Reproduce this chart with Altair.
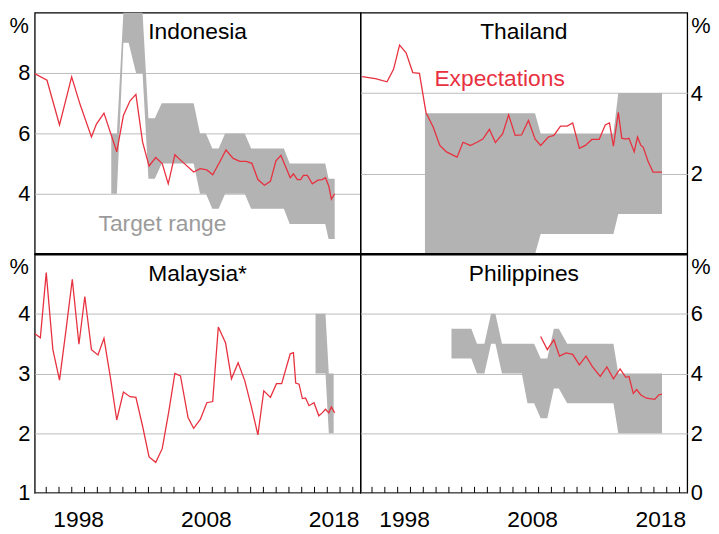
import altair as alt
import pandas as pd

FONT = "Liberation Sans"
RED = "#e8313f"
GREY = "#b3b3b3"
GRID = "#bdbdbd"

X_DOMAIN = [1995.1, 2020.6]
YEAR_TICKS = list(range(1996, 2021))
YEAR_LABELS = [1998.5, 2008.5, 2018.5]

# ---------------- Indonesia ----------------
idn_exp_year = [1995.1, 1996.06, 1997.04, 1997.99, 1998.64, 1999.54, 1999.93, 2000.52, 2001.52, 2002.04,
                2002.56, 2003.02, 2003.54, 2004.05, 2004.57, 2005.08, 2005.55, 2006.07, 2006.58, 2007.54,
                2008.05, 2008.57, 2009.03, 2009.6, 2010.07, 2010.63, 2011.15, 2011.66, 2012.1, 2012.57,
                2013.08, 2013.55, 2013.98, 2014.37, 2015.1, 2015.35, 2015.66, 2015.92, 2016.13, 2016.44,
                2016.83, 2017.27, 2017.6, 2017.86, 2018.12, 2018.32, 2018.58]
idn_exp_val = [7.98, 7.76, 6.28, 7.87, 6.97, 5.88, 6.31, 6.67, 5.39, 6.59,
               7.08, 7.29, 5.72, 4.92, 5.20, 5.00, 4.33, 5.29, 5.09, 4.72,
               4.83, 4.79, 4.63, 5.07, 5.45, 5.17, 5.07, 5.07, 5.01, 4.47,
               4.28, 4.41, 5.09, 5.27, 4.53, 4.66, 4.47, 4.47, 4.61, 4.61,
               4.33, 4.45, 4.47, 4.53, 4.25, 3.82, 4.00]
idn_band_year = [2001.09, 2001.53, 2002.04, 2002.45, 2003.03, 2003.54, 2004.0, 2004.5, 2005.04, 2007.54,
                 2008.04, 2008.5, 2009.0, 2009.5, 2010.0, 2011.54, 2012.04, 2014.6, 2015.06, 2017.84,
                 2018.1, 2018.58]
idn_band_lo = [4, 4, 9, 9, 8, 8, 4.5, 4.5, 5, 5,
               4, 4, 3.5, 3.5, 4, 4, 3.5, 3.5, 3, 3,
               2.5, 2.5]
idn_band_hi = [6, 6, 10, 10, 10, 10, 6.5, 6.5, 7, 7,
               6, 6, 5.5, 5.5, 6, 6, 5.5, 5.5, 5, 5,
               4.5, 4.5]

# ---------------- Thailand ----------------
tha_exp_year = [1995.23, 1996.26, 1997.17, 1997.68, 1998.15, 1998.66, 1999.18, 1999.7, 2000.21, 2000.78,
                2001.29, 2001.81, 2002.64, 2003.1, 2003.67, 2004.19, 2004.65, 2005.16, 2005.63, 2006.2,
                2006.66, 2007.17, 2007.67, 2008.21, 2008.72, 2009.16, 2009.76, 2010.19, 2010.71, 2011.23,
                2011.66, 2012.18, 2012.65, 2013.16, 2013.73, 2014.2, 2014.53, 2014.84, 2015.22, 2015.49,
                2015.8, 2016.05, 2016.46, 2016.72, 2016.98, 2017.16, 2017.54, 2017.93, 2018.63]
tha_exp_val = [4.41, 4.36, 4.28, 4.59, 5.19, 5.00, 4.51, 4.49, 3.52, 3.15,
               2.70, 2.54, 2.41, 2.78, 2.70, 2.78, 2.86, 3.10, 2.77, 2.99,
               3.46, 2.95, 2.96, 3.32, 2.86, 2.70, 2.91, 2.95, 3.18, 3.18,
               3.26, 2.63, 2.70, 2.85, 2.85, 3.21, 3.26, 2.68, 3.52, 2.88,
               2.86, 2.88, 2.54, 2.91, 2.70, 2.66, 2.31, 2.04, 2.04]
tha_band_year = [2000.13, 2008.72, 2009.16, 2014.84, 2015.22, 2018.63]
tha_band_lo = [0, 0, 0.5, 0.5, 1, 1]
tha_band_hi = [3.5, 3.5, 3.0, 3.0, 4, 4]

# ---------------- Malaysia ----------------
mys_exp_year = [1995.1, 1995.54, 1996.0, 1996.52, 1997.04, 1997.55, 1998.04, 1998.56, 1999.02, 1999.54,
                2000.05, 2000.52, 2001.04, 2001.52, 2002.04, 2002.56, 2003.02, 2003.54, 2004.05, 2004.57,
                2005.08, 2005.6, 2006.07, 2006.51, 2007.1, 2007.54, 2008.06, 2008.57, 2009.03, 2009.47,
                2010.04, 2010.5, 2011.02, 2011.54, 2012.05, 2012.57, 2013.03, 2013.55, 2014.02, 2014.43,
                2015.1, 2015.35, 2015.53, 2015.79, 2016.05, 2016.3, 2016.57, 2016.96, 2017.34, 2017.6,
                2017.86, 2018.12, 2018.32, 2018.58]
mys_exp_val = [3.67, 3.60, 4.69, 3.40, 2.89, 3.73, 4.58, 3.49, 4.29, 3.40,
               3.31, 3.59, 2.91, 2.22, 2.69, 2.61, 2.60, 2.12, 1.60, 1.51,
               1.74, 2.37, 3.00, 2.96, 2.26, 2.08, 2.23, 2.51, 2.53, 3.78,
               3.51, 2.91, 3.18, 2.88, 2.45, 1.97, 2.71, 2.60, 2.83, 2.83,
               3.33, 3.35, 2.84, 2.82, 2.58, 2.59, 2.46, 2.51, 2.29, 2.34,
               2.40, 2.34, 2.44, 2.34]
mys_band_year = [2017.08, 2017.86, 2018.12, 2018.5]
mys_band_lo = [3, 3, 2, 2]
mys_band_hi = [4, 4, 3, 3]

# ---------------- Philippines ----------------
phl_exp_year = [2009.16, 2009.68, 2010.19, 2010.63, 2011.15, 2011.66, 2012.18, 2012.7, 2013.21, 2013.81,
                2014.33, 2014.84, 2015.36, 2015.8, 2016.05, 2016.39, 2016.65, 2016.98, 2017.42, 2018.06,
                2018.37, 2018.63]
phl_exp_val = [5.24, 4.80, 5.13, 4.58, 4.69, 4.64, 4.29, 4.58, 4.22, 3.90,
               4.22, 3.82, 4.15, 3.87, 3.90, 3.33, 3.46, 3.28, 3.17, 3.13,
               3.28, 3.31]
phl_band_year = [2002.2, 2003.75, 2004.19, 2004.77, 2005.29, 2005.63, 2006.14, 2007.69, 2008.13, 2008.65,
                 2009.16, 2009.68, 2010.19, 2010.58, 2011.23, 2014.84, 2015.22, 2018.63]
phl_band_lo = [4.5, 4.5, 4, 4, 5, 5, 4, 4, 3, 3,
               2.5, 2.5, 3.5, 3.5, 3, 3, 2, 2]
phl_band_hi = [5.5, 5.5, 5, 5, 6, 6, 5, 5, 5, 5,
               4.5, 4.5, 5.5, 5.5, 5, 5, 4, 4]


def panel(name, exp_year, exp_val, band_year, band_lo, band_hi, ydomain, yvalues,
          orient, width, height, bottom, annot=None):
    exp_df = pd.DataFrame({"year": exp_year, "v": exp_val})
    band_df = pd.DataFrame({"year": band_year, "lo": band_lo, "hi": band_hi})
    xscale = alt.Scale(domain=X_DOMAIN, nice=False, zero=False)
    yscale = alt.Scale(domain=ydomain, nice=False, zero=False)
    if bottom:
        xaxis = alt.Axis(values=YEAR_LABELS, labelExpr="'' + floor(datum.value)", ticks=False,
                         domain=False, grid=False, labelFontSize=23, labelPadding=16,
                         labelFont=FONT, labelColor="black", labelOverlap=False,
                         labelFlush=False, title=None)
    else:
        xaxis = None
    left = orient == "left"
    yaxis = alt.Axis(orient=orient, values=yvalues, title="%", titleAngle=0,
                     titleX=-26 if left else 3.5, titleY=20, titleAlign="left",
                     titleBaseline="alphabetic", titleFontSize=22, titleFontWeight="normal",
                     titleFont=FONT, titleColor="black",
                     labelFontSize=22, labelFont=FONT, labelColor="black",
                     labelPadding=5 if left else 3, ticks=False, domain=False,
                     grid=True, gridColor=GRID, gridWidth=1, labelOverlap=False)

    band = alt.Chart(band_df).mark_area(color=GREY, opacity=1, clip=True).encode(
        x=alt.X("year:Q", scale=xscale, axis=xaxis),
        y=alt.Y("lo:Q", scale=yscale, axis=yaxis),
        y2="hi:Q",
    )
    line = alt.Chart(exp_df).mark_line(color=RED, strokeWidth=1.3, clip=True).encode(
        x=alt.X("year:Q", scale=xscale, axis=xaxis),
        y=alt.Y("v:Q", scale=yscale, axis=yaxis),
    )
    title = alt.Chart(pd.DataFrame({"t": [name]})).mark_text(
        font=FONT, fontSize=23, align="center", baseline="alphabetic", color="black"
    ).encode(text="t:N", x=alt.value(width / 2), y=alt.value(27))
    layers = [band, line, title]
    if annot is not None:
        txt, ax, ay, col = annot
        layers.append(alt.Chart(pd.DataFrame({"t": [txt]})).mark_text(
            font=FONT, fontSize=23, align="center", baseline="alphabetic", color=col
        ).encode(text="t:N", x=alt.value(ax), y=alt.value(ay)))
    if bottom:
        layers.append(alt.Chart(pd.DataFrame({"yr": YEAR_TICKS})).mark_rule(
            color="black", strokeWidth=1
        ).encode(x=alt.X("yr:Q", scale=xscale, axis=xaxis),
                 y=alt.value(height), y2=alt.value(height - 6)))
        # heavier divider between the two rows of panels
        layers.append(alt.Chart(pd.DataFrame({"d": [0]})).mark_rule(
            color="black", strokeWidth=2.5
        ).encode(x=alt.value(0), x2=alt.value(width), y=alt.value(0)))
    return alt.layer(*layers).properties(
        width=width, height=height,
        view=alt.ViewBackground(stroke="black", strokeWidth=1.3),
    )


TOP_H = 244
BOT_H = 241
idn = panel("Indonesia", idn_exp_year, idn_exp_val, idn_band_year, idn_band_lo, idn_band_hi,
            [2, 10], [4, 6, 8], "left", 329, TOP_H, False,
            annot=("Target range", 129, 221, "#9b9b9b"))
tha = panel("Thailand", tha_exp_year, tha_exp_val, tha_band_year, tha_band_lo, tha_band_hi,
            [0, 6], [2, 4], "right", 330, TOP_H, False,
            annot=("Expectations", 140.5, 74, RED))
mys = panel("Malaysia*", mys_exp_year, mys_exp_val, mys_band_year, mys_band_lo, mys_band_hi,
            [1, 5], [1, 2, 3, 4], "left", 329, BOT_H, True)
phl = panel("Philippines", phl_exp_year, phl_exp_val, phl_band_year, phl_band_lo, phl_band_hi,
            [0, 8], [0, 2, 4, 6], "right", 330, BOT_H, True)

chart = alt.concat(idn, tha, mys, phl, columns=2, spacing=0, bounds="flush").properties(
    padding={"left": 0, "top": 1, "right": 0, "bottom": 0}
).configure(font=FONT).configure_view(stroke="black", strokeWidth=1.3)

chart.save("out.html", embed_options={"renderer": "svg", "actions": False})
